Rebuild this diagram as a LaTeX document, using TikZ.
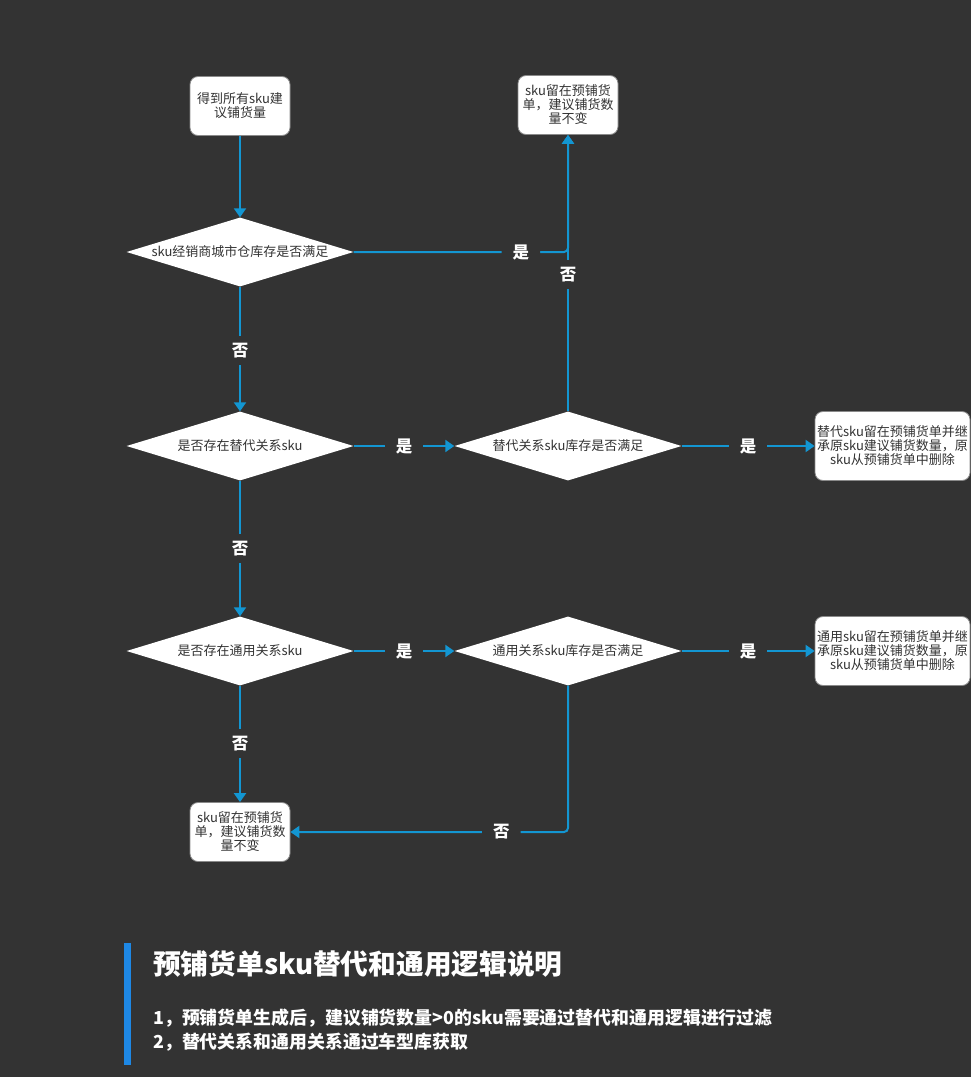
\documentclass[tikz,border=0pt]{standalone}
\usepackage{fontspec}
\setmainfont{Noto Sans CJK SC}
\usetikzlibrary{shapes.geometric,arrows.meta}
\definecolor{bg}{HTML}{333333}
\definecolor{linec}{HTML}{1396D2}
\definecolor{barc}{HTML}{1E88E5}
\definecolor{ink}{HTML}{333333}
\definecolor{rim}{HTML}{8A8A8A}

\begin{document}
\begin{tikzpicture}[x=1pt,y=-1pt,
  box/.style={draw=rim, line width=0.8pt, fill=white, rounded corners=8pt,
    minimum width=100pt, minimum height=59pt, align=center, inner sep=0pt,
    text=ink, font=\fontsize{13}{14}\selectfont},
  widebox/.style={box, minimum width=155pt, minimum height=69pt},
  decision/.style={diamond, fill=white, minimum width=227pt, minimum height=69pt,
    aspect=3.3, inner sep=0pt, text=ink, font=\fontsize{13}{14}\selectfont},
  arrowline/.style={draw=linec, line width=2pt, -{Triangle[width=12pt,length=9pt]}},
  lbl/.style={fill=bg, text=white, font=\fontsize{16.5}{16.5}\selectfont\bfseries,
    inner xsep=11pt, inner ysep=7pt},
  note/.style={anchor=west, text=white, inner sep=0pt}
]
% canvas
\path[fill=bg] (0,0) rectangle (971,1077);

% boxes and decisions
\node[box] (a) at (240,106) {得到所有sku建\\议铺货量};
\node[decision] (d1) at (240,252) {sku经销商城市仓库存是否满足};
\node[box] (b) at (568,105) {sku留在预铺货\\单，建议铺货数\\量不变};
\node[decision] (d2) at (240,446) {是否存在替代关系sku};
\node[decision] (d3) at (568,446) {替代关系sku库存是否满足};
\node[widebox] (c) at (892.5,446) {替代sku留在预铺货单并继\\承原sku建议铺货数量，原\\sku从预铺货单中删除};
\node[decision] (d4) at (240,651) {是否存在通用关系sku};
\node[decision] (d5) at (568,651) {通用关系sku库存是否满足};
\node[widebox] (e) at (892.5,651) {通用sku留在预铺货单并继\\承原sku建议铺货数量，原\\sku从预铺货单中删除};
\node[box] (f) at (240,832) {sku留在预铺货\\单，建议铺货数\\量不变};

% connectors
\draw[arrowline] (a) -- (d1);
\draw[arrowline, rounded corners=4pt] (d1.east) -| node[lbl, pos=0.39] {是} (b.south);
\draw[arrowline] (d3.north) -- node[lbl, pos=0.495] {否} (b.south);
\draw[arrowline] (d1.south) -- node[lbl, pos=0.51] {否} (d2.north);
\draw[arrowline] (d2.east) -- node[lbl] {是} (d3.west);
\draw[arrowline] (d3.east) -- node[lbl] {是} (c.west);
\draw[arrowline] (d2.south) -- node[lbl] {否} (d4.north);
\draw[arrowline] (d4.east) -- node[lbl] {是} (d5.west);
\draw[arrowline] (d5.east) -- node[lbl] {是} (e.west);
\draw[arrowline] (d4.south) -- node[lbl] {否} (f.north);
\draw[arrowline, rounded corners=4pt] (d5.south) |- node[lbl, pos=0.62] {否} (f.east);

% explanation
\fill[barc] (124,943) rectangle (131,1065);
\node[note, font=\fontsize{27.7}{27.7}\selectfont\bfseries] (title) at (153,964) {预铺货单sku替代和通用逻辑说明};
\node[note, font=\fontsize{17.9}{17.9}\selectfont\bfseries] (n1) at (153,1018) {1，预铺货单生成后，建议铺货数量>0的sku需要通过替代和通用逻辑进行过滤};
\node[note, font=\fontsize{17.9}{17.9}\selectfont\bfseries] (n2) at (153,1042) {2，替代关系和通用关系通过车型库获取};
\end{tikzpicture}
\end{document}
